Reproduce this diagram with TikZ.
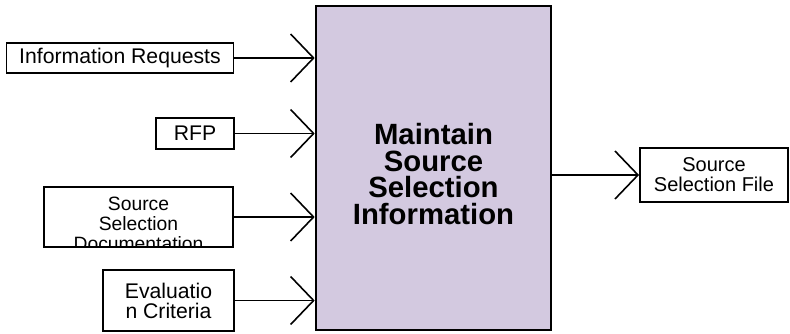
\documentclass[tikz,border=0pt]{standalone}
\usepackage{fontspec}
\setmainfont{Liberation Sans}
\usetikzlibrary{arrows.meta}
\definecolor{procfill}{HTML}{D3C9E0}
\begin{document}
\begin{tikzpicture}[x=1pt,y=-1pt,
  lbl/.style={draw=black,line width=1.8pt,fill=white,inner sep=0pt,align=center,
     font=\fontsize{21.2}{20}\selectfont},
  flow/.style={line width=1.6pt,-{Straight Barb[length=23pt,width=48pt,line width=1.6pt]}},
]
\useasboundingbox (0,0) rectangle (790,333);
\node[draw=black,line width=2.6pt,fill=procfill,minimum width=235pt,minimum height=324pt,inner sep=0pt] (main) at (433.5,168) {};
\node[font=\bfseries\fontsize{29.3}{26.5}\selectfont,align=center] (mtext) at (433.5,174) {Maintain\\Source\\Selection\\Information};

\node[lbl,minimum width=227pt,minimum height=30pt] (ir) at (120,58) {Information Requests};
\node[lbl,minimum width=78pt,minimum height=31pt] (rfp) at (195,133.5) {RFP};
\node[lbl,minimum width=189pt,minimum height=60pt,
  path picture={\node[font=\fontsize{19.3}{20}\selectfont,align=center,anchor=north] at ([yshift=-6pt]path picture bounding box.north) {Source\\Selection\\Documentation};}] (ssd) at (138.5,217) {};
\node[lbl,minimum width=131pt,minimum height=61pt] (ec) at (168.5,300.5) {Evaluatio\\n Criteria};
\node[lbl,font=\fontsize{20}{20}\selectfont,minimum width=148pt,minimum height=54pt] (ssf) at (714,175) {Source\\Selection File};

\draw[flow] (ir.east) -- (main.west |- ir.east);
\draw[flow] (rfp.east) -- (main.west |- rfp.east);
\draw[flow] (ssd.east) -- (main.west |- ssd.east);
\draw[flow] (ec.east) -- (main.west |- ec.east);
\draw[flow] (main.east |- ssf.west) -- (ssf.west);
\end{tikzpicture}
\end{document}
